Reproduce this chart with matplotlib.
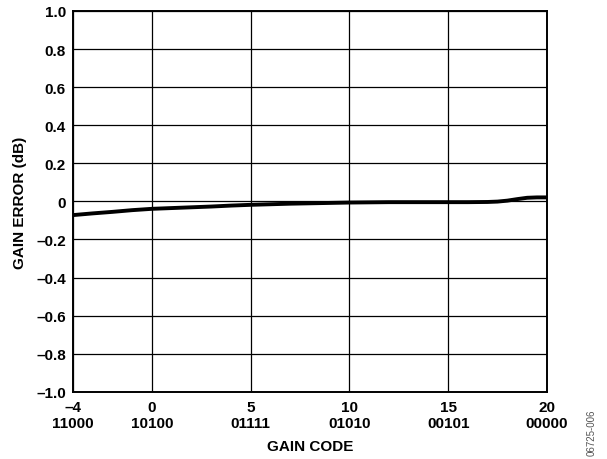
import matplotlib.pyplot as plt

plt.rcParams['font.family'] = ['Liberation Sans', 'DejaVu Sans']
plt.rcParams['font.weight'] = 'bold'

# gain error vs gain code
gain_index = [-4, -3, -2, -1, 0, 1, 2, 3, 4, 5, 6, 7, 8, 9, 10, 11, 12, 13, 14, 15,
              16, 17, 17.5, 18, 18.5, 19, 19.5, 20]
gain_error = [-0.072, -0.063, -0.055, -0.046, -0.039, -0.035, -0.031, -0.027, -0.022, -0.018,
              -0.015, -0.012, -0.010, -0.008, -0.006, -0.005, -0.004, -0.004, -0.004, -0.004,
              -0.004, -0.003, -0.001, 0.004, 0.012, 0.019, 0.021, 0.021]

x_ticks = [-4, 0, 5, 10, 15, 20]
x_codes = ['11000', '10100', '01111', '01010', '00101', '00000']
y_ticks = [-1.0, -0.8, -0.6, -0.4, -0.2, 0, 0.2, 0.4, 0.6, 0.8, 1.0]


def fmt(v, digits=1):
    if v == 0:
        s = '0'
    elif digits == 0:
        s = str(int(v))
    else:
        s = f'{v:.{digits}f}'
    return s.replace('-', '\u2013')


fig = plt.figure(figsize=(6.07, 4.60), dpi=100)
ax = fig.add_axes([0.120, 0.146, 0.781, 0.828])

ax.plot(gain_index, gain_error, color='black', linewidth=2.8, solid_capstyle='butt')

ax.set_xlim(-4, 20)
ax.set_ylim(-1.0, 1.0)
ax.set_xticks(x_ticks)
ax.set_xticklabels([f'{fmt(t, 0)}\n{c}' for t, c in zip(x_ticks, x_codes)],
                   fontsize=11, fontweight='bold', linespacing=1.15)
ax.set_yticks(y_ticks)
ax.set_yticklabels([fmt(t) for t in y_ticks], fontsize=11, fontweight='bold')
ax.tick_params(axis='x', length=0, pad=6)
ax.tick_params(axis='y', length=0, pad=5)

ax.grid(True, color='black', linewidth=0.9)
for s in ax.spines.values():
    s.set_linewidth(1.4)

ax.set_xlabel('GAIN CODE', fontsize=11, fontweight='bold')
ax.xaxis.set_label_coords(0.5, -0.124)
ax.set_ylabel('GAIN ERROR (dB)', fontsize=11, fontweight='bold')
ax.yaxis.set_label_coords(-0.097, 0.5)

fig.text(0.975, 0.06, '06725-006', rotation=90, fontsize=7, fontweight='normal',
         color='#555555', ha='center', va='center')

fig.savefig('out.png', dpi=100)
